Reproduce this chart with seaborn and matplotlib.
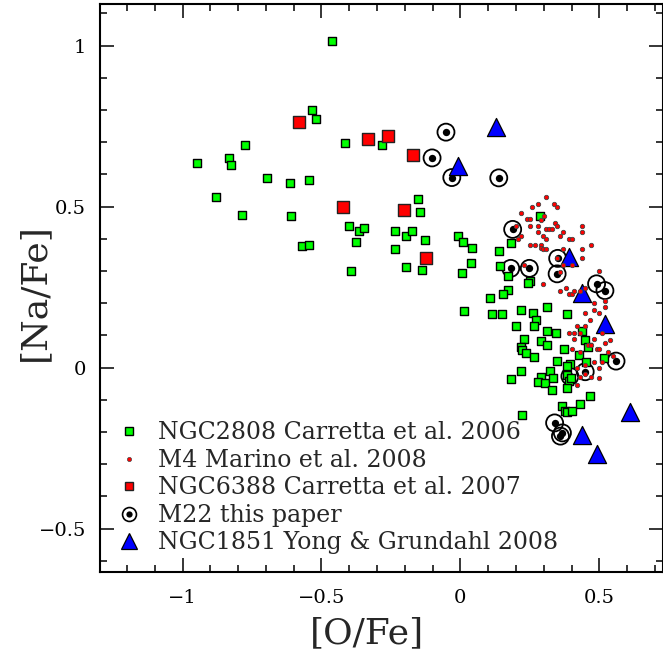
import matplotlib
matplotlib.use("Agg")
import matplotlib.pyplot as plt
from matplotlib.lines import Line2D
from matplotlib.legend_handler import HandlerTuple
from matplotlib.ticker import MultipleLocator
import seaborn as sns
import pandas as pd

# NGC2808 Carretta et al. 2006
ngc2808_ofe = [-0.463, -0.535, -0.520, -0.774, -0.948, -0.833, -0.824, -0.416, -0.282, -0.696,
               -0.613, -0.546, -0.880, -0.786, -0.608, -0.153, -0.147, -0.402, -0.365, -0.348,
               -0.235, -0.195, -0.173, -0.128, -0.377, -0.237, -0.570, -0.544, -0.392, -0.195,
               -0.138, -0.007, 0.008, 0.041, 0.037, 0.004, 0.014, 0.138, 0.183, 0.285,
               0.143, 0.172, 0.250, 0.244, 0.170, 0.153, 0.107, 0.113, 0.148, 0.217,
               0.262, 0.273, 0.201, 0.265, 0.310, 0.310, 0.229, 0.217, 0.220, 0.237,
               0.264, 0.291, 0.312, 0.217, 0.182, 0.291, 0.280, 0.303, 0.221, 0.385,
               0.344, 0.374, 0.437, 0.449, 0.460, 0.427, 0.349, 0.394, 0.451, 0.517,
               0.322, 0.332, 0.385, 0.382, 0.389, 0.397, 0.382, 0.331, 0.467, 0.430,
               0.366, 0.375, 0.385, 0.401]
ngc2808_nafe = [1.015, 0.801, 0.773, 0.690, 0.636, 0.651, 0.628, 0.697, 0.691, 0.590,
                0.573, 0.581, 0.531, 0.475, 0.470, 0.523, 0.484, 0.439, 0.425, 0.432,
                0.424, 0.408, 0.425, 0.395, 0.390, 0.369, 0.377, 0.379, 0.299, 0.311,
                0.302, 0.407, 0.390, 0.372, 0.325, 0.295, 0.175, 0.362, 0.387, 0.470,
                0.316, 0.283, 0.270, 0.261, 0.241, 0.228, 0.215, 0.165, 0.165, 0.180,
                0.170, 0.147, 0.129, 0.129, 0.188, 0.112, 0.089, 0.063, 0.054, 0.044,
                0.032, 0.081, 0.069, -0.011, -0.037, -0.030, -0.046, -0.049, -0.146, 0.166,
                0.108, 0.059, 0.113, 0.084, 0.064, 0.039, 0.021, 0.011, 0.017, 0.029,
                -0.011, -0.031, 0.004, -0.023, -0.041, -0.033, -0.065, -0.069, -0.089, -0.113,
                -0.121, -0.136, -0.137, -0.136]

# M4 Marino et al. 2008
m4_ofe = [0.309, 0.259, 0.279, 0.338, 0.349, 0.219, 0.239, 0.252, 0.300, 0.289,
          0.249, 0.279, 0.339, 0.349, 0.309, 0.319, 0.329, 0.279, 0.369, 0.359,
          0.298, 0.309, 0.219, 0.209, 0.439, 0.439, 0.390, 0.400, 0.249, 0.270,
          0.289, 0.289, 0.298, 0.309, 0.439, 0.471, 0.369, 0.349, 0.439, 0.369,
          0.400, 0.360, 0.499, 0.230, 0.298, 0.360, 0.379, 0.390, 0.400, 0.409,
          0.430, 0.450, 0.480, 0.520, 0.520, 0.199, 0.480, 0.499, 0.449, 0.468,
          0.419, 0.449, 0.390, 0.409, 0.430, 0.409, 0.480, 0.509, 0.519, 0.539,
          0.460, 0.469, 0.490, 0.499, 0.400, 0.430, 0.530, 0.550, 0.480, 0.510,
          0.419, 0.499, 0.449, 0.449, 0.469, 0.430, 0.499, 0.419]
m4_nafe = [0.530, 0.500, 0.509, 0.509, 0.499, 0.479, 0.460, 0.460, 0.470, 0.457,
           0.439, 0.439, 0.449, 0.439, 0.429, 0.429, 0.429, 0.420, 0.420, 0.408,
           0.410, 0.398, 0.410, 0.398, 0.439, 0.420, 0.398, 0.398, 0.379, 0.379,
           0.379, 0.370, 0.369, 0.369, 0.369, 0.379, 0.369, 0.339, 0.339, 0.317,
           0.317, 0.298, 0.299, 0.317, 0.259, 0.239, 0.248, 0.229, 0.229, 0.238,
           0.238, 0.248, 0.199, 0.207, 0.188, 0.439, 0.180, 0.168, 0.168, 0.147,
           0.128, 0.128, 0.108, 0.108, 0.108, 0.089, 0.089, 0.108, 0.077, 0.087,
           0.069, 0.069, 0.058, 0.058, 0.058, 0.048, 0.048, 0.037, 0.018, 0.018,
           -0.003, -0.003, 0.008, -0.020, -0.029, -0.029, -0.033, -0.054]

# NGC6388 Carretta et al. 2007
ngc6388_ofe = [-0.582, -0.333, -0.262, -0.172, -0.422, -0.202, -0.123]
ngc6388_nafe = [0.761, 0.711, 0.720, 0.660, 0.499, 0.490, 0.340]

# M22 this paper
m22_ofe = [-0.052, -0.102, -0.031, 0.138, 0.188, 0.181, 0.248, 0.350, 0.348, 0.490,
           0.520, 0.560, 0.449, 0.394, 0.339, 0.367, 0.360]
m22_nafe = [0.731, 0.651, 0.590, 0.589, 0.429, 0.308, 0.308, 0.339, 0.291, 0.260,
            0.239, 0.020, -0.013, -0.027, -0.172, -0.203, -0.213]

# NGC1851 Yong & Grundahl 2008
ngc1851_ofe = [0.129, -0.010, 0.391, 0.439, 0.519, 0.610, 0.438, 0.490]
ngc1851_nafe = [0.746, 0.625, 0.344, 0.232, 0.134, -0.139, -0.208, -0.270]

labels = ["NGC2808 Carretta et al. 2006", "M4 Marino et al. 2008",
          "NGC6388 Carretta et al. 2007", "M22 this paper",
          "NGC1851 Yong & Grundahl 2008"]

sns.set_style("ticks")
plt.rcParams["font.family"] = ["DejaVu Serif"]
plt.rcParams["axes.unicode_minus"] = True

fig = plt.figure(figsize=(6.63, 6.61), dpi=100)
ax = fig.add_axes([100 / 663, 1 - 572 / 661, 563 / 663, 568 / 661])

df_g = pd.DataFrame({"x": ngc2808_ofe, "y": ngc2808_nafe})
df_m4 = pd.DataFrame({"x": m4_ofe, "y": m4_nafe})
df_r = pd.DataFrame({"x": ngc6388_ofe, "y": ngc6388_nafe})
df_m22 = pd.DataFrame({"x": m22_ofe, "y": m22_nafe})
df_b = pd.DataFrame({"x": ngc1851_ofe, "y": ngc1851_nafe})

sns.scatterplot(data=df_m22, x="x", y="y", ax=ax, marker="o", s=150,
                facecolor="none", edgecolor="black", linewidth=1.3, zorder=2)
sns.scatterplot(data=df_m22, x="x", y="y", ax=ax, marker="o", s=28,
                color="black", edgecolor="black", linewidth=0, zorder=2)
sns.scatterplot(data=df_g, x="x", y="y", ax=ax, marker="s", s=30,
                color="#00ff00", edgecolor="black", linewidth=1.0, zorder=3)
sns.scatterplot(data=df_r, x="x", y="y", ax=ax, marker="s", s=75,
                color="#ff0000", edgecolor="#222222", linewidth=1.0, zorder=3)
sns.scatterplot(data=df_b, x="x", y="y", ax=ax, marker="^", s=170,
                color="#0000ff", edgecolor="black", linewidth=0.9, zorder=4)
sns.scatterplot(data=df_m4, x="x", y="y", ax=ax, marker="o", s=10,
                color="#ff0000", edgecolor="#444444", linewidth=0.6, zorder=5)

ax.set_xlim(-1.297, 0.729)
ax.set_ylim(-0.635, 1.129)
ax.xaxis.set_major_locator(MultipleLocator(0.5))
ax.xaxis.set_minor_locator(MultipleLocator(0.1))
ax.yaxis.set_major_locator(MultipleLocator(0.5))
ax.yaxis.set_minor_locator(MultipleLocator(0.1))

def fmt(v, pos):
    if abs(v) < 1e-9:
        return "0"
    s = ("%g" % v)
    return s.replace("-", "\u2212")
ax.xaxis.set_major_formatter(plt.FuncFormatter(fmt))
ax.yaxis.set_major_formatter(plt.FuncFormatter(fmt))

ax.tick_params(which="both", direction="in", top=True, right=True,
               color="black", width=1.1, labelsize=14, labelcolor="black")
ax.tick_params(which="major", length=10)
ax.tick_params(which="minor", length=5)
ax.tick_params(axis="x", which="major", pad=12)
ax.tick_params(axis="y", which="major", pad=10)
for sp in ax.spines.values():
    sp.set_linewidth(1.5)
    sp.set_color("black")

ax.set_xlabel("[O/Fe]", fontsize=26)
ax.set_ylabel("[Na/Fe]", fontsize=26)
ax.xaxis.set_label_coords(0.474, -0.078)
ax.yaxis.set_label_coords(-0.086, 0.493)

handles = [
    Line2D([], [], linestyle="none", marker="s", markersize=6, markerfacecolor="#00ff00",
           markeredgecolor="black", markeredgewidth=1.0),
    Line2D([], [], linestyle="none", marker="o", markersize=3, markerfacecolor="#ff0000",
           markeredgecolor="#444444", markeredgewidth=0.5),
    Line2D([], [], linestyle="none", marker="s", markersize=6, markerfacecolor="#ff0000",
           markeredgecolor="#222222", markeredgewidth=1.0),
    (Line2D([], [], linestyle="none", marker="o", markersize=10, markerfacecolor="none",
            markeredgecolor="black", markeredgewidth=1.2),
     Line2D([], [], linestyle="none", marker="o", markersize=4.5, markerfacecolor="black",
            markeredgecolor="black", markeredgewidth=0)),
    Line2D([], [], linestyle="none", marker="^", markersize=11, markerfacecolor="#0000ff",
           markeredgecolor="black", markeredgewidth=0.9),
]
leg = ax.legend(handles, labels, loc="lower left", bbox_to_anchor=(0.031, 0.031),
                frameon=False, fontsize=17, handlelength=0.95, handletextpad=0.75,
                labelspacing=0.19, borderpad=0, borderaxespad=0,
                handler_map={tuple: HandlerTuple(ndivide=1)})

fig.savefig("out.png", dpi=100)
